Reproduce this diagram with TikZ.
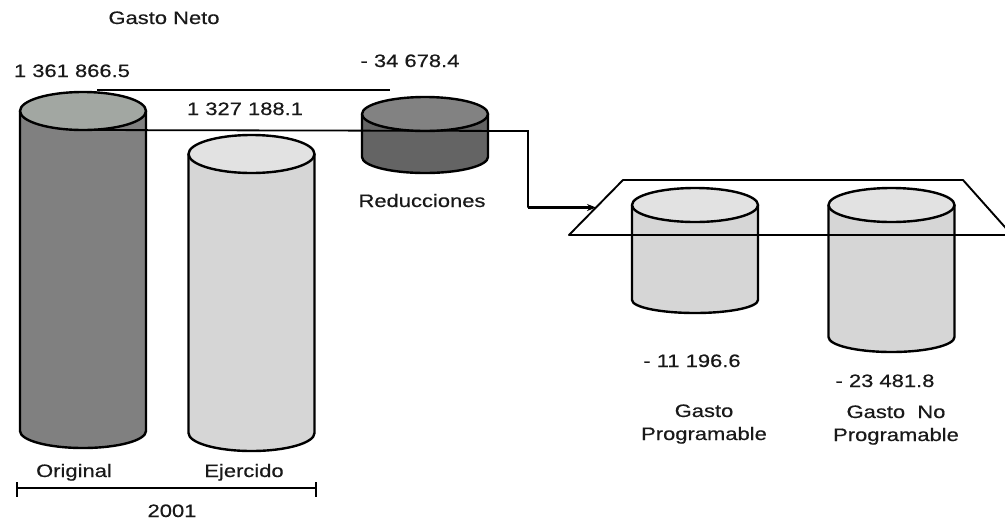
\documentclass[tikz,border=0pt]{standalone}
\usepackage{fontspec}
\setmainfont{Liberation Sans}[FakeStretch=1.22,FakeBold=0.5]
\usetikzlibrary{arrows.meta,calc}
\definecolor{origside}{RGB}{128,128,128}
\definecolor{origtop}{RGB}{162,167,162}
\definecolor{lightside}{RGB}{214,214,214}
\definecolor{lighttop}{RGB}{226,226,226}
\definecolor{redside}{RGB}{100,100,100}
\definecolor{redtop}{RGB}{130,130,130}
\definecolor{txt}{RGB}{25,25,25}
\newcommand\cylinder[9]{%
  \fill[#8] (#2-#5,#3) -- (#2-#5,#4) arc[start angle=180,end angle=360,x radius=#5pt,y radius=#7pt] -- (#2+#5,#3) -- cycle;
  \draw[cylline] (#2-#5,#3) -- (#2-#5,#4) arc[start angle=180,end angle=360,x radius=#5pt,y radius=#7pt] -- (#2+#5,#3);
  \filldraw[cylline,fill=#9] (#2,#3) ellipse[x radius=#5pt,y radius=#6pt];
  \coordinate (#1-top) at (#2,#3-#6);
  \coordinate (#1-topfront) at (#2,#3+#6);
  \coordinate (#1-bottom) at (#2,#4+#7);
}
\begin{document}
\begin{tikzpicture}[x=1pt,y=-1pt,
  cylline/.style={line width=2.4pt,line join=round},
  lbl/.style={font=\fontsize{18}{23}\selectfont,text=txt,inner sep=0pt,anchor=base,align=center},
  conn/.style={line width=1.8pt},
]
\useasboundingbox (0,0) rectangle (1005,520);
\clip (0,0) rectangle (1005,520);

% cylinders
\cylinder{orig}{83}{111}{431}{63}{19}{17}{origside}{origtop}
\cylinder{ejer}{251.5}{154}{433}{63}{19}{18}{lightside}{lighttop}
\cylinder{red}{425}{114}{157}{63}{17}{16}{redside}{redtop}
\cylinder{gp}{695}{205}{300}{63}{17}{13}{lightside}{lighttop}
\cylinder{gnp}{891.5}{205}{337}{63}{17}{15}{lightside}{lighttop}

% plane
\coordinate (p1) at (623,180);
\coordinate (p2) at (963,180);
\coordinate (p3) at (1012,235);
\coordinate (p4) at (569,235);
\draw[line width=1.9pt,line join=round] (p1) -- (p2) -- (p3) -- (p4) -- cycle;
\coordinate (plane-in) at ($(p4)!0.5!(p1)$);

% connectors
\coordinate (topA) at (97,90);
\coordinate (topB) at (390,90);
\draw[line width=1.5pt] (topA) -- (topB);
\coordinate (bend1) at (528,131);
\draw[conn] (orig-topfront) -- (bend1) -- (bend1 |- plane-in);
\draw[line width=2.4pt,-{Stealth[length=9pt,width=7pt]}] (bend1 |- plane-in) -- (plane-in);

% scale bar
\coordinate (s1) at (17,488);
\coordinate (s2) at (316,488);
\draw[line width=1.6pt] (s1) -- (s2);
\draw[line width=1.6pt] ([yshift=6pt]s1) -- ([yshift=-9pt]s1);
\draw[line width=1.6pt] ([yshift=6pt]s2) -- ([yshift=-9pt]s2);

% labels
\node[lbl] (tneto) at (164,24) {Gasto Neto};
\node[lbl] (torig) at (72,77) {1 361 866.5};
\node[lbl] (tred) at (410,67) {- 34 678.4};
\node[lbl] (tejer) at (245,115) {1 327 188.1};
\node[lbl] (tredn) at (422,207) {Reducciones};
\node[lbl] (toriginal) at (74,477) {Original};
\node[lbl] (tejercido) at (244,477) {Ejercido};
\node[lbl] (tyear) at (172,517) {2001};
\node[lbl] (tgpv) at (692,367) {- 11 196.6};
\node[lbl] (tgnpv) at (885,387) {- 23 481.8};
\node[lbl] (tgp) at (704,440) {Gasto\\Programable};
\node[lbl] (tgnp) at (896,441) {Gasto\ \ No\\Programable};
\end{tikzpicture}
\end{document}
